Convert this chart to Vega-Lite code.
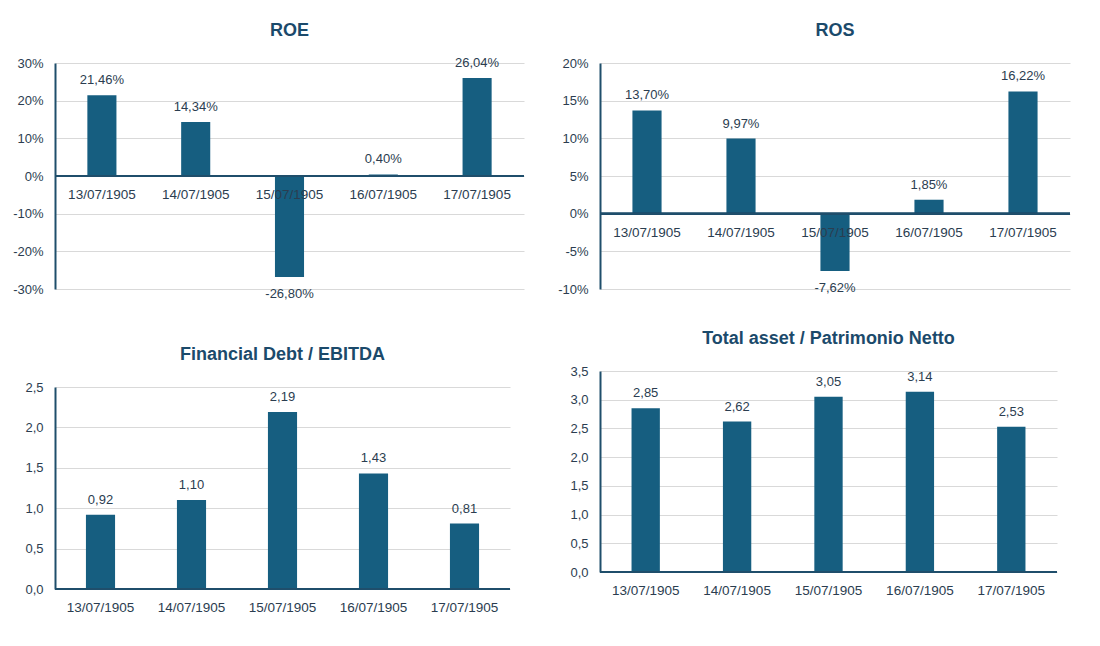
{
  "$schema": "https://vega.github.io/schema/vega-lite/v6.json",
  "padding": {"left": 12, "top": 21, "right": 10, "bottom": 5},
  "background": "white",
  "config": {
    "locale": {"number": {"decimal": ",", "thousands": ".", "grouping": [3], "currency": ["€", ""], "minus": "-"}},
    "view": {"stroke": null},
    "font": "Liberation Sans",
    "title": {"font": "Liberation Sans", "fontSize": 18, "fontWeight": "bold", "color": "#1b4a6b", "offset": 17, "anchor": "middle"},
    "axis": {"labelFont": "Liberation Sans", "labelFontSize": 13, "labelColor": "#2b3d50", "gridColor": "#d9d9d9", "domainColor": "#1f4e6b", "domainWidth": 2, "ticks": false, "labelPadding": 12, "title": null},
    "text": {"font": "Liberation Sans", "fontSize": 13, "color": "#2b3d50"}
  },
  "datasets": {
    "roe": [
      {"date": "13/07/1905", "value": 0.2146},
      {"date": "14/07/1905", "value": 0.1434},
      {"date": "15/07/1905", "value": -0.268},
      {"date": "16/07/1905", "value": 0.004},
      {"date": "17/07/1905", "value": 0.2604}
    ],
    "ros": [
      {"date": "13/07/1905", "value": 0.137},
      {"date": "14/07/1905", "value": 0.0997},
      {"date": "15/07/1905", "value": -0.0762},
      {"date": "16/07/1905", "value": 0.0185},
      {"date": "17/07/1905", "value": 0.1622}
    ],
    "fd": [
      {"date": "13/07/1905", "value": 0.92},
      {"date": "14/07/1905", "value": 1.10},
      {"date": "15/07/1905", "value": 2.19},
      {"date": "16/07/1905", "value": 1.43},
      {"date": "17/07/1905", "value": 0.81}
    ],
    "ta": [
      {"date": "13/07/1905", "value": 2.85},
      {"date": "14/07/1905", "value": 2.62},
      {"date": "15/07/1905", "value": 3.05},
      {"date": "16/07/1905", "value": 3.14},
      {"date": "17/07/1905", "value": 2.53}
    ]
  },
  "spacing": 32,
  "hconcat": [
    {
      "spacing": 45,
      "vconcat": [
        {
          "title": "ROE",
          "width": 469, "height": 226,
          "data": {"name": "roe"},
          "encoding": {
            "x": {"field": "date", "type": "ordinal", "sort": null, "axis": null, "scale": {"paddingInner": 0, "paddingOuter": 0}},
            "y": {"field": "value", "type": "quantitative", "scale": {"domain": [-0.3, 0.3], "nice": false}, "axis": {"format": ".0%", "values": [-0.3, -0.2, -0.1, 0, 0.1, 0.2, 0.3]}}
          },
          "layer": [
            {"mark": {"type": "bar", "width": {"band": 0.31}, "color": "#165e80"}},
            {"mark": {"type": "rule", "color": "#1f4e6b", "strokeWidth": 2}, "encoding": {"x": {"value": 0}, "x2": {"value": 469}, "y": {"datum": 0}}},
            {"transform": [{"filter": "datum.value >= 0"}], "mark": {"type": "text", "baseline": "bottom", "dy": -8}, "encoding": {"text": {"field": "value", "type": "quantitative", "format": ".2%"}}},
            {"transform": [{"filter": "datum.value < 0"}], "mark": {"type": "text", "baseline": "top", "dy": 11}, "encoding": {"text": {"field": "value", "type": "quantitative", "format": ".2%"}}},
            {"mark": {"type": "text", "baseline": "middle", "dy": 19, "fontSize": 13.5}, "encoding": {"y": {"datum": 0}, "text": {"field": "date"}}}
          ]
        },
        {
          "title": "Financial Debt / EBITDA",
          "width": 455, "height": 202,
          "data": {"name": "fd"},
          "encoding": {
            "x": {"field": "date", "type": "ordinal", "sort": null, "axis": null, "scale": {"paddingInner": 0, "paddingOuter": 0}},
            "y": {"field": "value", "type": "quantitative", "scale": {"domain": [0, 2.5], "nice": false}, "axis": {"format": ".1f", "values": [0, 0.5, 1, 1.5, 2, 2.5]}}
          },
          "layer": [
            {"mark": {"type": "bar", "width": {"band": 0.32}, "color": "#165e80"}},
            {"mark": {"type": "rule", "color": "#1f4e6b", "strokeWidth": 2}, "encoding": {"x": {"value": 0}, "x2": {"value": 455}, "y": {"datum": 0}}},
            {"mark": {"type": "text", "baseline": "bottom", "dy": -8}, "encoding": {"text": {"field": "value", "type": "quantitative", "format": ".2f"}}},
            {"mark": {"type": "text", "baseline": "middle", "dy": 19, "fontSize": 13.5}, "encoding": {"y": {"datum": 0}, "text": {"field": "date"}}}
          ]
        }
      ]
    },
    {
      "spacing": 34,
      "vconcat": [
        {
          "title": "ROS",
          "width": 470, "height": 226,
          "data": {"name": "ros"},
          "encoding": {
            "x": {"field": "date", "type": "ordinal", "sort": null, "axis": null, "scale": {"paddingInner": 0, "paddingOuter": 0}},
            "y": {"field": "value", "type": "quantitative", "scale": {"domain": [-0.1, 0.2], "nice": false}, "axis": {"format": ".0%", "values": [-0.1, -0.05, 0, 0.05, 0.1, 0.15, 0.2]}}
          },
          "layer": [
            {"mark": {"type": "bar", "width": {"band": 0.31}, "color": "#165e80"}},
            {"mark": {"type": "rule", "color": "#1f4e6b", "strokeWidth": 2}, "encoding": {"x": {"value": 0}, "x2": {"value": 470}, "y": {"datum": 0}}},
            {"transform": [{"filter": "datum.value >= 0"}], "mark": {"type": "text", "baseline": "bottom", "dy": -8}, "encoding": {"text": {"field": "value", "type": "quantitative", "format": ".2%"}}},
            {"transform": [{"filter": "datum.value < 0"}], "mark": {"type": "text", "baseline": "top", "dy": 11}, "encoding": {"text": {"field": "value", "type": "quantitative", "format": ".2%"}}},
            {"mark": {"type": "text", "baseline": "middle", "dy": 19, "fontSize": 13.5}, "encoding": {"y": {"datum": 0}, "text": {"field": "date"}}}
          ]
        },
        {
          "title": "Total asset /  Patrimonio Netto",
          "width": 457, "height": 201,
          "data": {"name": "ta"},
          "encoding": {
            "x": {"field": "date", "type": "ordinal", "sort": null, "axis": null, "scale": {"paddingInner": 0, "paddingOuter": 0}},
            "y": {"field": "value", "type": "quantitative", "scale": {"domain": [0, 3.5], "nice": false}, "axis": {"format": ".1f", "values": [0, 0.5, 1, 1.5, 2, 2.5, 3, 3.5]}}
          },
          "layer": [
            {"mark": {"type": "bar", "width": {"band": 0.31}, "color": "#165e80"}},
            {"mark": {"type": "rule", "color": "#1f4e6b", "strokeWidth": 2}, "encoding": {"x": {"value": 0}, "x2": {"value": 457}, "y": {"datum": 0}}},
            {"mark": {"type": "text", "baseline": "bottom", "dy": -8}, "encoding": {"text": {"field": "value", "type": "quantitative", "format": ".2f"}}},
            {"mark": {"type": "text", "baseline": "middle", "dy": 19, "fontSize": 13.5}, "encoding": {"y": {"datum": 0}, "text": {"field": "date"}}}
          ]
        }
      ]
    }
  ]
}
